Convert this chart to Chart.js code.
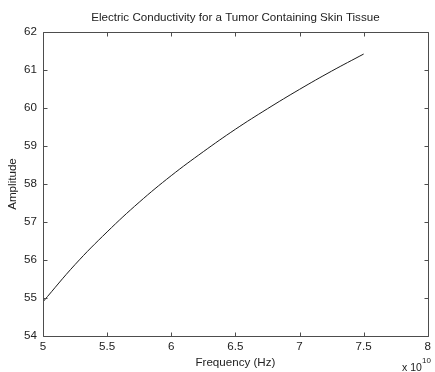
<!DOCTYPE html>
<html>
<head>
<meta charset="utf-8">
<script src="https://cdn.jsdelivr.net/npm/chart.js@4.4.0/dist/chart.umd.min.js"></script>
<style>
  html, body { margin: 0; padding: 0; background: #fff; }
  #wrap { width: 435px; height: 372px; position: relative; }
</style>
</head>
<body>
<div id="wrap"><canvas id="c" width="435" height="372"></canvas></div>
<script>
// Frequency in units of 1e10 Hz
const frequency = [5.0, 5.25, 5.5, 5.75, 6.0, 6.25, 6.5, 6.75, 7.0, 7.25, 7.5];
const amplitude = [54.9, 55.88, 56.74, 57.52, 58.22, 58.85, 59.44, 59.98, 60.49, 60.97, 61.42];
const xTickValues = [5, 5.5, 6, 6.5, 7, 7.5, 8];
const xTickLabels = ['5', '5.5', '6', '6.5', '7', '7.5', '8'];
const yTickValues = [54, 55, 56, 57, 58, 59, 60, 61, 62];
const yTickLabels = ['54', '55', '56', '57', '58', '59', '60', '61', '62'];
const chartTitle = 'Electric Conductivity for a Tumor Containing Skin Tissue';
const xTitle = 'Frequency (Hz)';
const yTitle = 'Amplitude';
const xExponent = '10';

const FONT = '"Liberation Sans", Arial, sans-serif';
const FS = 11.6;
const TEXT = '#222222';
const AXIS = '#4d4d4d';

const points = frequency.map((f, i) => ({ x: f, y: amplitude[i] }));

const framePlugin = {
  id: 'matlabFrame',
  afterDraw(chart) {
    const ctx = chart.ctx;
    const a = chart.chartArea;
    const xs = chart.scales.x, ys = chart.scales.y;
    const L = Math.round(a.left) + 0.5, R = Math.round(a.right) + 0.5;
    const T = Math.round(a.top) + 0.5, B = Math.round(a.bottom) + 0.5;
    ctx.save();
    ctx.strokeStyle = AXIS;
    ctx.lineWidth = 1;
    ctx.beginPath();
    ctx.rect(L, T, R - L, B - T);
    const tl = 4;
    xTickValues.forEach(v => {
      const px = Math.round(xs.getPixelForValue(v)) + 0.5;
      ctx.moveTo(px, B); ctx.lineTo(px, B - tl);
      ctx.moveTo(px, T); ctx.lineTo(px, T + tl);
    });
    yTickValues.forEach(v => {
      const py = Math.round(ys.getPixelForValue(v)) + 0.5;
      ctx.moveTo(L, py); ctx.lineTo(L + tl, py);
      ctx.moveTo(R, py); ctx.lineTo(R - tl, py);
    });
    ctx.stroke();
    ctx.fillStyle = TEXT;
    // title centred over the plot area
    ctx.font = FS + 'px ' + FONT;
    ctx.textAlign = 'center';
    ctx.textBaseline = 'middle';
    ctx.fillText(chartTitle, (a.left + a.right) / 2, 18);
    // exponent label
    ctx.textBaseline = 'alphabetic';
    ctx.textAlign = 'left';
    ctx.font = '10.5px ' + FONT;
    ctx.fillText('x 10', 402, 371);
    ctx.font = '8px ' + FONT;
    ctx.fillText(xExponent, 422, 363);
    ctx.restore();
  }
};

new Chart(document.getElementById('c'), {
  type: 'scatter',
  data: {
    datasets: [{
      data: points,
      showLine: true,
      borderColor: '#1a1a1a',
      borderWidth: 1,
      pointRadius: 0,
      tension: 0.4,
      fill: false
    }]
  },
  options: {
    responsive: false,
    animation: false,
    devicePixelRatio: 1,
    layout: { padding: { left: 0, right: 3, top: 32, bottom: 0 } },
    plugins: {
      legend: { display: false },
      tooltip: { enabled: false },
      title: { display: false }
    },
    scales: {
      x: {
        type: 'linear',
        min: 5, max: 8,
        grid: { display: false, drawTicks: false },
        border: { display: false },
        afterBuildTicks: s => { s.ticks = xTickValues.map(v => ({ value: v })); },
        ticks: {
          color: TEXT,
          font: { family: FONT, size: FS },
          padding: 4,
          maxRotation: 0,
          autoSkip: false,
          callback: (v) => xTickLabels[xTickValues.indexOf(v)]
        },
        title: {
          display: true,
          text: xTitle,
          color: TEXT,
          font: { family: FONT, size: FS },
          padding: { top: 2, bottom: 2 }
        },
        afterFit: s => { s.height = 36; }
      },
      y: {
        type: 'linear',
        min: 54, max: 62,
        grid: { display: false, drawTicks: false },
        border: { display: false },
        afterBuildTicks: s => { s.ticks = yTickValues.map(v => ({ value: v })); },
        ticks: {
          color: TEXT,
          font: { family: FONT, size: FS },
          padding: 6,
          autoSkip: false,
          callback: (v) => yTickLabels[yTickValues.indexOf(v)]
        },
        title: {
          display: true,
          text: yTitle,
          color: TEXT,
          font: { family: FONT, size: FS },
          padding: { top: 6, bottom: 4 }
        },
        afterFit: s => { s.width = 43; }
      }
    }
  },
  plugins: [framePlugin]
});
</script>
</body>
</html>
